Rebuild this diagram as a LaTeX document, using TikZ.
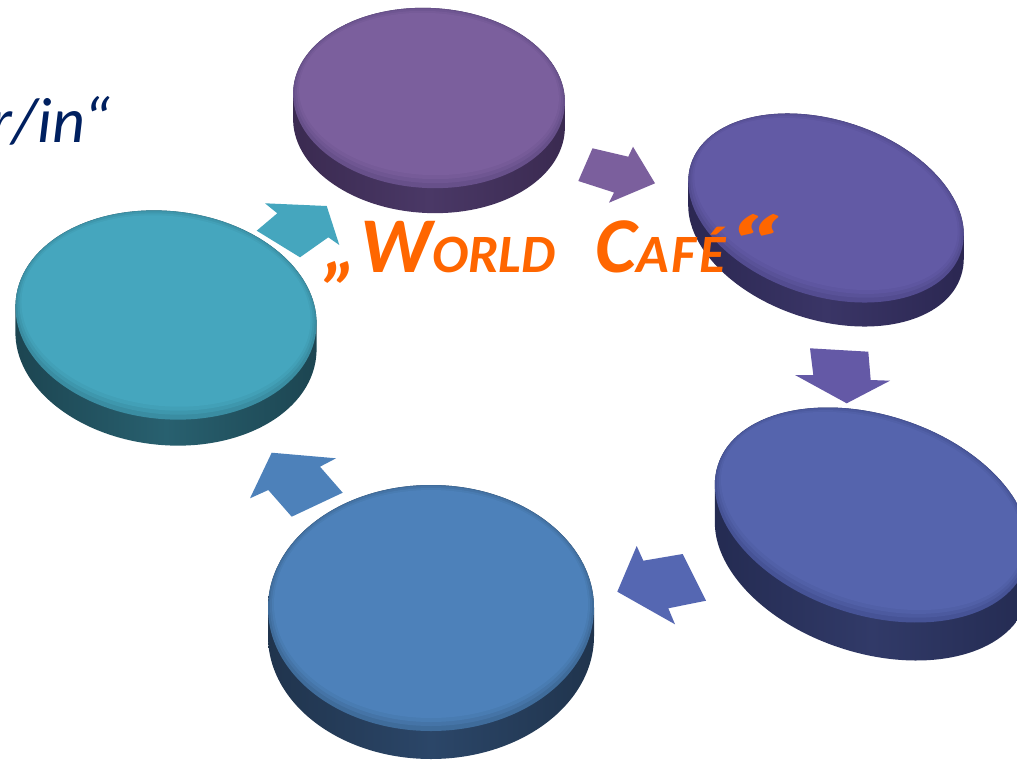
\documentclass[tikz,border=0pt]{standalone}
\usepackage{fontspec}
\usepackage{graphicx}
\newfontfamily\carlito{Carlito}
\definecolor{d1top}{HTML}{7B5F9D}\definecolor{d1bev}{HTML}{67508A}\definecolor{d1side}{HTML}{3A2A50}\definecolor{d1sidemid}{HTML}{4A3866}
\definecolor{d2top}{HTML}{625AA5}\definecolor{d2bev}{HTML}{534C90}\definecolor{d2side}{HTML}{2A2650}\definecolor{d2sidemid}{HTML}{3A3566}
\definecolor{d3top}{HTML}{5564AD}\definecolor{d3bev}{HTML}{465396}\definecolor{d3side}{HTML}{232A50}\definecolor{d3sidemid}{HTML}{313A68}
\definecolor{d4top}{HTML}{4D81BA}\definecolor{d4bev}{HTML}{3F6C9B}\definecolor{d4side}{HTML}{20344D}\definecolor{d4sidemid}{HTML}{2B4668}
\definecolor{d5top}{HTML}{45A6BE}\definecolor{d5bev}{HTML}{3A8DA2}\definecolor{d5side}{HTML}{1C4450}\definecolor{d5sidemid}{HTML}{28606F}
\definecolor{arrA}{HTML}{45A6BE}\definecolor{arrB}{HTML}{7B5F9D}\definecolor{arrC}{HTML}{6459A6}
\definecolor{arrD}{HTML}{5567B2}\definecolor{arrE}{HTML}{4D81BA}
\definecolor{cafeorange}{HTML}{FF6600}\definecolor{navy}{HTML}{002060}
\newcommand\cafedisk[8]{%
  \begin{scope}[shift={(#1,#2)}, rotate=#5]
    \shade[left color=#7side, right color=#7side, middle color=#7sidemid]
      foreach \k in {0,1,...,#6} { ({-\k*sin(#5)},{\k*cos(#5)}) ellipse [x radius=#3, y radius=#4] };
    \fill[#7bev] (0,0) ellipse [x radius=#3, y radius=#4];
    \fill[#7bev!60!#7top] ({2*sin(#5)},{-2*cos(#5)}) ellipse [x radius=#3-2, y radius=#4-3];
    \fill[#7bev!25!#7top] ({3*sin(#5)},{-3*cos(#5)}) ellipse [x radius=#3-4, y radius=#4-6];
    \fill[#7top] ({4*sin(#5)},{-4*cos(#5)}) ellipse [x radius=#3-6, y radius=#4-9];
    \node[inner sep=0pt] (#8) at (0,0) {};
  \end{scope}}
\tikzset{blockarrow/.style={draw=none}}
\newcommand\capsz{\fontsize{79}{79}\selectfont}
\newcommand\smcsz{\fontsize{54}{54}\selectfont}
\begin{document}
\begin{tikzpicture}[x=1pt,y=-1pt]
\useasboundingbox[fill=white] (0,0) rectangle (1017,760);
% disks
\cafedisk{429}{98}{136}{90}{-3}{25}{d1}{disk1}
\cafedisk{826}{208}{142}{88}{-18}{24}{d2}{disk2}
\cafedisk{872}{515}{162}{100}{-18}{38}{d3}{disk3}
\cafedisk{431}{608}{163}{123}{0}{28}{d4}{disk4}
\cafedisk{166}{315}{151}{104}{-6}{26}{d5}{disk5}
% arrows
\fill[blockarrow, arrA] (265,203.3) -- (326.7,206) -- (339.3,245) -- (328.3,237.3) -- (300,257.3) -- (256.7,230.7) -- (277.3,213.3) -- cycle;
\fill[blockarrow, arrB] (592.5,148.3) -- (628.3,156.7) -- (633,146.7) -- (655,183.3) -- (609,202.7) -- (614,192.5) -- (578.3,181) -- cycle;
\fill[blockarrow, arrC] (810,348.3) -- (868.3,351.7) -- (870.7,380) -- (890,380.7) -- (846.7,403.3) -- (795,375) -- (813.3,375) -- cycle;
\fill[blockarrow, arrD] (636.7,546) -- (643.3,560.7) -- (682.7,554) -- (706,600.7) -- (668.3,608.3) -- (675,624.3) -- (617.3,591.7) -- cycle;
\fill[blockarrow, arrE] (271.7,452.7) -- (336,458.3) -- (320,466.7) -- (342.7,492.7) -- (291.7,516.7) -- (268.3,490) -- (250,498.3) -- cycle;
% texts
\node[anchor=base west, inner sep=0pt, text=cafeorange, font=\carlito\bfseries\itshape] (title) at (323,272)
  {\capsz „\hspace{3pt}W\smcsz ORLD\hspace{40pt}\capsz C\smcsz A\kern2.5pt F\kern2.5pt É\hspace{0pt}\capsz\scalebox{1.6}[1]{“}};
\node[anchor=base east, inner sep=0pt, text=navy, font=\carlito\itshape\fontsize{64}{64}\selectfont] (role) at (110,142) {r/in“};
\end{tikzpicture}
\end{document}
